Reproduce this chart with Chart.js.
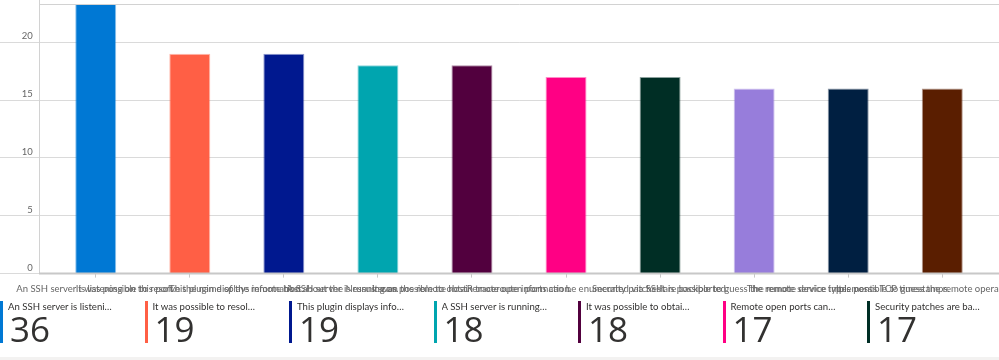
<!DOCTYPE html>
<html>
<head>
<meta charset="utf-8">
<script src="https://cdn.jsdelivr.net/npm/chart.js@4.4.0/dist/chart.umd.min.js"></script>
<style>
  html, body { margin: 0; padding: 0; background: #fff; }
  body { width: 999px; height: 360px; overflow: hidden; position: relative; font-family: 'Segoe UI', Lato, sans-serif; }
  #chartBox { position: absolute; left: 0; top: 0; width: 999px; height: 302px; }
  .tile { position: absolute; top: 301px; height: 42px; border-left: 3px solid #000; }
  .tile .name { position: absolute; left: 5px; top: 0px; width: 107px; font-size: 9.6px; line-height: 12px; color: #323130;
                white-space: nowrap; overflow: hidden; text-overflow: ellipsis; }
  .tile .count { position: absolute; left: 7px; top: 10px; font-family: 'Segoe UI', 'Open Sans', sans-serif;
                 font-size: 35px; line-height: 35px; color: #323130; }
  #footer { position: absolute; left: 0; top: 357px; width: 999px; height: 3px; background: #f3f2f1; }
</style>
</head>
<body>
<div id="chartBox"><canvas id="findingsChart"></canvas></div>
<div id="tiles"></div>
<div id="footer"></div>
<script>
const findings = [
  'An SSH server is listening on this port.',
  'It was possible to resolve the name of the remote host.',
  'This plugin displays information about the Nessus scan.',
  'A SSH server is running on the remote host.',
  'It was possible to obtain traceroute information.',
  'Remote open ports can be enumerated via SSH.',
  'Security patches are backported.',
  'It is possible to guess the remote device type.',
  'The remote service implements TCP timestamps.',
  'It is possible to guess the remote operating system.'
];
const counts = [36, 19, 19, 18, 18, 17, 17, 16, 16, 16];
const barColors = ['#0078d4', '#ff5f45', '#00188f', '#00a5af', '#52003e', '#ff0084',
                   '#002e25', '#977ddb', '#001f41', '#5a1e00'];
const yMax = 23.3;
const yStep = 5;

const gridColor = '#dadada';
const leftGap = 9.7;   // space between the y frame line and the first category

Chart.defaults.font.family = "'Segoe UI', Lato, sans-serif";

function fade(hex, a) {
  const n = parseInt(hex.slice(1), 16);
  return 'rgba(' + (n >> 16) + ',' + ((n >> 8) & 255) + ',' + (n & 255) + ',' + a + ')';
}

// frame: left line, top line and the thick bottom axis line
const frameLines = {
  id: 'frameLines',
  afterDatasetsDraw(chart) {
    const { ctx, chartArea } = chart;
    const x0 = Math.round(chartArea.left - leftGap) + 0.5;
    ctx.save();
    ctx.strokeStyle = '#d2d2d2';
    ctx.lineWidth = 1;
    ctx.beginPath();
    ctx.moveTo(x0, 0);
    ctx.lineTo(x0, chartArea.bottom);
    ctx.moveTo(x0, Math.round(chartArea.top) + 0.5);
    ctx.lineTo(chart.width, Math.round(chartArea.top) + 0.5);
    ctx.stroke();
    ctx.strokeStyle = '#c8c8c8';
    ctx.lineWidth = 2;
    ctx.beginPath();
    ctx.moveTo(x0 - 0.5, chartArea.bottom);
    ctx.lineTo(chart.width, chartArea.bottom);
    ctx.stroke();
    ctx.restore();
  }
};

let findingsChart;

function initFindingsChart() {
  const ctx = document.getElementById('findingsChart');
  findingsChart = new Chart(ctx, {
    type: 'bar',
    data: {
      labels: findings,
      datasets: [{
        data: counts,
        backgroundColor: barColors,
        borderColor: barColors.map(c => fade(c, 0.45)),
        borderWidth: 1,
        categoryPercentage: 1,
        barPercentage: 0.436,
        clip: 0
      }]
    },
    options: {
      responsive: true,
      maintainAspectRatio: false,
      animation: false,
      layout: { padding: { top: 4, bottom: 1, left: 0, right: 0 } },
      plugins: { legend: { display: false }, tooltip: { enabled: false } },
      scales: {
        x: {
          border: { display: false },
          grid: { drawOnChartArea: false, offset: false, tickLength: 4, color: '#c8c8c8' },
          ticks: { autoSkip: false, maxRotation: 0, minRotation: 0, padding: 6, color: '#666',
                   font: { size: 9.5 } },
          afterFit(scale) { scale.paddingLeft = 0; scale.paddingRight = 0; }
        },
        y: {
          min: 0,
          max: yMax,
          border: { display: false },
          grid: { color: gridColor, tickLength: 49 },
          ticks: { stepSize: yStep, includeBounds: false, padding: -33, labelOffset: -6,
                   color: '#666', font: { size: 9.5 } },
          afterFit(scale) { scale.width = 39 + leftGap; scale.paddingTop = 0; scale.paddingBottom = 0; }
        },
        yEdge: {
          position: 'right',
          min: 0,
          max: yMax,
          border: { display: false },
          grid: { drawOnChartArea: false, color: gridColor, tickLength: 10 },
          ticks: { display: false, stepSize: yStep, includeBounds: false },
          afterFit(scale) { scale.width = leftGap; scale.paddingTop = 0; scale.paddingBottom = 0; }
        }
      }
    },
    plugins: [frameLines]
  });
}

function buildTiles() {
  const box = document.getElementById('tiles');
  findings.forEach((name, i) => {
    const tile = document.createElement('div');
    tile.className = 'tile';
    tile.style.left = (i * 144.5) + 'px';
    tile.style.borderLeftColor = barColors[i];
    const n = document.createElement('div');
    n.className = 'name';
    n.textContent = name;
    const c = document.createElement('div');
    c.className = 'count';
    c.textContent = counts[i];
    tile.appendChild(n);
    tile.appendChild(c);
    box.appendChild(tile);
  });
}

document.addEventListener('DOMContentLoaded', () => {
  buildTiles();
  initFindingsChart();
});
</script>
</body>
</html>
